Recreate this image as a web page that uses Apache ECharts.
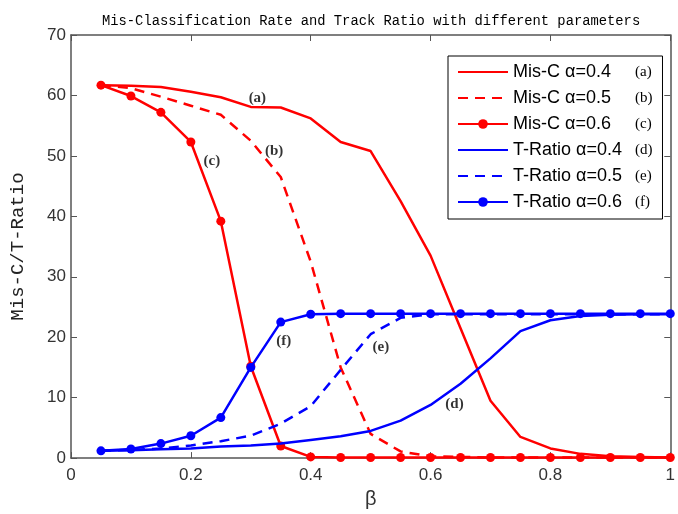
<!DOCTYPE html>
<html>
<head>
<meta charset="utf-8">
<script src="https://cdn.jsdelivr.net/npm/echarts@6/dist/echarts.min.js"></script>
<style>
  html, body { margin: 0; background: #fff; }
  #chart { width: 678px; height: 514px; }
</style>
</head>
<body>
<div id="chart"></div>
<script>
// beta values (x axis)
const betas = [0.05, 0.1, 0.15, 0.2, 0.25, 0.3, 0.35, 0.4, 0.45, 0.5,
               0.55, 0.6, 0.65, 0.7, 0.75, 0.8, 0.85, 0.9, 0.95, 1.0];

// Mis-Classification rate
const misA = [61.7, 61.6, 61.4, 60.6, 59.7, 58.1, 58.0, 56.2, 52.3, 50.8,
              42.5, 33.5, 21.5, 9.5, 3.5, 1.6, 0.7, 0.3, 0.2, 0.1];
const misB = [61.7, 61.2, 59.8, 58.3, 56.8, 52.5, 46.5, 32.5, 15.0, 4.0,
              1.1, 0.3, 0.2, 0.1, 0.1, 0.1, 0.1, 0.1, 0.1, 0.1];
const misC = [61.7, 59.9, 57.2, 52.3, 39.2, 15.2, 2.0, 0.2, 0.1, 0.1,
              0.1, 0.1, 0.1, 0.1, 0.1, 0.1, 0.1, 0.1, 0.1, 0.1];

// Track ratio
const trD = [1.2, 1.3, 1.45, 1.6, 1.9, 2.1, 2.4, 3.0, 3.6, 4.5,
             6.2, 8.8, 12.3, 16.5, 21.0, 22.8, 23.5, 23.7, 23.8, 23.8];
const trE = [1.2, 1.35, 1.6, 2.1, 2.8, 3.7, 5.7, 8.6, 14.6, 20.5,
             23.2, 23.8, 23.8, 23.8, 23.8, 23.8, 23.8, 23.8, 23.8, 23.8];
const trF = [1.2, 1.5, 2.4, 3.7, 6.7, 15.0, 22.5, 23.8, 23.9, 23.9,
             23.9, 23.9, 23.9, 23.9, 23.9, 23.9, 23.9, 23.9, 23.9, 23.9];

const seriesNames = ['Mis-C α=0.4', 'Mis-C α=0.5', 'Mis-C α=0.6',
                     'T-Ratio α=0.4', 'T-Ratio α=0.5', 'T-Ratio α=0.6'];
const seriesTags = ['(a)', '(b)', '(c)', '(d)', '(e)', '(f)'];
const hasMarks = [false, false, true, false, false, true];

// curve annotations: [beta, value, tag]
const notes = [[0.311, 59.6, '(a)'], [0.339, 50.8, '(b)'], [0.235, 49.1, '(c)'],
               [0.64, 9.0, '(d)'], [0.517, 18.3, '(e)'], [0.355, 19.3, '(f)']];

const RED = '#ff0000';
const BLUE = '#0000ff';
const pairs = vals => betas.map((b, i) => [b, vals[i]]);

function lineSeries(name, vals, color, dashed, marks) {
  return {
    name: name,
    type: 'line',
    data: pairs(vals),
    symbol: marks ? 'circle' : 'none',
    symbolSize: 9,
    showSymbol: marks,
    lineStyle: { color: color, width: 2.5, type: dashed ? [10, 7] : 'solid' },
    itemStyle: { color: color },
    z: color === BLUE ? 3 : 2
  };
}

const axisGray = '#555';
const chart = echarts.init(document.getElementById('chart'));

chart.setOption({
  animation: false,
  backgroundColor: '#fff',
  title: {
    text: 'Mis-Classification Rate and Track Ratio with different parameters',
    left: 97,
    top: 9,
    textStyle: { fontFamily: 'Liberation Mono', fontSize: 13.8, fontWeight: 'normal', color: '#000' }
  },
  grid: { left: 65, right: 3, top: 35, bottom: 46 },
  legend: {
    // markerless series get an invisible legend symbol, so only the line shows
    data: seriesNames.map((n, i) => hasMarks[i]
      ? { name: n }
      : { name: n, itemStyle: { opacity: 0, borderWidth: 0 } }),
    orient: 'vertical',
    left: 448,
    top: 56,
    padding: [7, 10, 8, 9],
    itemGap: 8,
    itemWidth: 50,
    itemHeight: 12,
    borderColor: '#000',
    borderWidth: 1,
    backgroundColor: '#fff',
    formatter: name => '{n|' + name + '}{t|' + seriesTags[seriesNames.indexOf(name)] + '}',
    textStyle: {
      rich: {
        n: { fontFamily: 'Liberation Sans', fontSize: 18, color: '#000', width: 122, lineHeight: 20 },
        t: { fontFamily: 'Liberation Serif', fontSize: 15, color: '#000', lineHeight: 20 }
      }
    }
  },
  xAxis: [{
    type: 'value', min: 0, max: 1, interval: 0.2, position: 'bottom',
    name: 'β', nameLocation: 'middle', nameGap: 24,
    nameTextStyle: { fontFamily: 'Liberation Sans', fontSize: 20, color: '#333' },
    axisLine: { show: true, onZero: false, lineStyle: { color: axisGray, width: 1.5 } },
    axisTick: { show: true, inside: true, length: 6, lineStyle: { color: axisGray } },
    axisLabel: { fontFamily: 'Liberation Sans', fontSize: 17, color: '#333', margin: 9 },
    splitLine: { show: false }
  }, {
    type: 'value', min: 0, max: 1, interval: 0.2, position: 'top',
    axisLine: { show: true, onZero: false, lineStyle: { color: axisGray, width: 1.5 } },
    axisTick: { show: true, inside: true, length: 6, lineStyle: { color: axisGray } },
    axisLabel: { show: false },
    splitLine: { show: false }
  }],
  yAxis: [{
    type: 'value', min: 0, max: 70, interval: 10, position: 'left',
    name: 'Mis-C/T-Ratio', nameLocation: 'middle', nameGap: 44,
    nameTextStyle: { fontFamily: 'Liberation Mono', fontSize: 19, color: '#222' },
    axisLine: { show: true, onZero: false, lineStyle: { color: axisGray, width: 1.5 } },
    axisTick: { show: true, inside: true, length: 6, lineStyle: { color: axisGray } },
    axisLabel: { fontFamily: 'Liberation Sans', fontSize: 17, color: '#333', margin: 5 },
    splitLine: { show: false }
  }, {
    type: 'value', min: 0, max: 70, interval: 10, position: 'right',
    axisLine: { show: true, onZero: false, lineStyle: { color: axisGray, width: 1.5 } },
    axisTick: { show: true, inside: true, length: 6, lineStyle: { color: axisGray } },
    axisLabel: { show: false },
    splitLine: { show: false }
  }],
  series: [
    lineSeries(seriesNames[0], misA, RED, false, hasMarks[0]),
    lineSeries(seriesNames[1], misB, RED, true, hasMarks[1]),
    lineSeries(seriesNames[2], misC, RED, false, hasMarks[2]),
    lineSeries(seriesNames[3], trD, BLUE, false, hasMarks[3]),
    lineSeries(seriesNames[4], trE, BLUE, true, hasMarks[4]),
    lineSeries(seriesNames[5], trF, BLUE, false, hasMarks[5]),
    {
      type: 'scatter',
      data: notes,
      symbolSize: 1,
      itemStyle: { color: 'rgba(0,0,0,0)' },
      silent: true,
      z: 5,
      label: {
        show: true,
        position: 'inside',
        formatter: p => p.data[2],
        fontFamily: 'Liberation Serif',
        fontWeight: 'bold',
        fontSize: 15,
        color: '#000'
      }
    }
  ]
});
</script>
</body>
</html>
